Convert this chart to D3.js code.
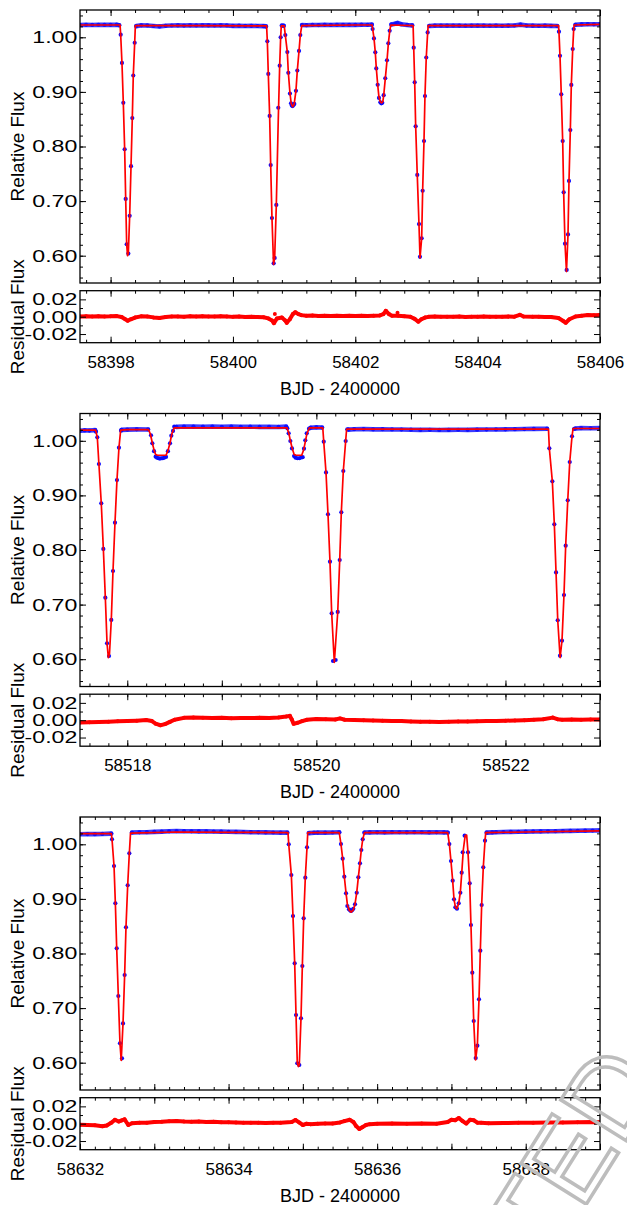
<!DOCTYPE html>
<html><head><meta charset="utf-8">
<script src="https://cdn.jsdelivr.net/npm/d3@7"></script>
<style>
html,body{margin:0;padding:0;background:#fff;}
svg{display:block;}
text{font-family:"Liberation Sans",Arial,Helvetica,sans-serif;}
</style></head><body><div id="chart"></div>
<script>
// ---------- DATA ----------
const fluxDomain = [0.55, 1.05];
const resDomain = [-0.03, 0.03];
const fluxTicks = [0.60, 0.70, 0.80, 0.90, 1.00];
const resTicks = [-0.02, 0.00, 0.02];
const xDomain1 = [58397.5, 58406];
const xDomain2 = [58517.5, 58523];
const xDomain3 = [58632, 58639];
const xTicks1 = [58398, 58400, 58402, 58404, 58406];
const xTicks2 = [58518, 58519, 58520, 58521, 58522, 58523];
const xTicks3 = [58632, 58633, 58634, 58635, 58636, 58637, 58638, 58639];
const xLabel = "BJD - 2400000";
const yLabel = "Relative Flux";
const rLabel = "Residual Flux";

// Panel 1 observations: out-of-eclipse samples and in-eclipse points [BJD, flux]
const base1 = [[58397.50,1.0225],[58397.60,1.0228],[58397.70,1.0226],[58397.80,1.0230],[58397.90,1.0227],[58398.00,1.0228],[58398.10,1.0231],[58398.14,1.0222],
[58398.42,1.0205],[58398.50,1.0219],[58398.60,1.0217],[58398.70,1.0207],[58398.80,1.0199],[58398.90,1.0211],[58399.00,1.0216],[58399.10,1.0218],[58399.20,1.0215],[58399.30,1.0219],[58399.40,1.0217],[58399.50,1.0221],[58399.60,1.0218],[58399.70,1.0216],[58399.80,1.0220],[58399.90,1.0217],[58400.00,1.0210],[58400.10,1.0212],[58400.20,1.0208],[58400.30,1.0210],[58400.40,1.0207],[58400.50,1.0204],[58400.54,1.0200],
[58400.80,1.0215],[58400.83,1.0212],
[58401.13,1.0225],[58401.20,1.0222],[58401.30,1.0226],[58401.40,1.0224],[58401.50,1.0228],[58401.60,1.0226],[58401.70,1.0229],[58401.80,1.0227],[58401.90,1.0230],[58402.00,1.0228],[58402.10,1.0231],[58402.20,1.0229],[58402.27,1.0232],
[58402.59,1.0235],[58402.65,1.0250],[58402.69,1.0262],[58402.75,1.0240],[58402.85,1.0226],[58402.93,1.0218],
[58403.21,1.0208],[58403.30,1.0214],[58403.40,1.0216],[58403.50,1.0213],[58403.60,1.0216],[58403.70,1.0214],[58403.80,1.0212],[58403.90,1.0215],[58404.00,1.0213],[58404.10,1.0215],[58404.20,1.0212],[58404.30,1.0214],[58404.40,1.0211],[58404.50,1.0214],[58404.60,1.0216],[58404.70,1.0232],[58404.80,1.0215],[58404.90,1.0213],[58405.00,1.0211],[58405.10,1.0213],[58405.20,1.0210],[58405.30,1.0206],
[58405.60,1.0230],[58405.70,1.0236],[58405.80,1.0240],[58405.90,1.0238],[58406.00,1.0240]];
const ecl1 = [[58398.165,1.0048],[58398.186,0.953],[58398.208,0.880],[58398.230,0.795],[58398.247,0.704],[58398.263,0.621],[58398.290,0.604],[58398.312,0.673],[58398.334,0.764],[58398.355,0.852],[58398.371,0.930],[58398.394,0.990],
[58400.562,0.9927],[58400.578,0.933],[58400.600,0.856],[58400.617,0.766],[58400.638,0.669],[58400.666,0.586],[58400.682,0.596],[58400.709,0.693],[58400.741,0.871],[58400.764,0.948],[58400.780,1.000],
[58400.856,1.004],[58400.889,0.973],[58400.905,0.935],[58400.932,0.897],[58400.949,0.879],[58400.962,0.875],[58400.976,0.874],[58400.990,0.876],[58401.003,0.878],[58401.030,0.902],[58401.052,0.939],[58401.080,0.975],[58401.101,1.004],
[58402.283,1.015],[58402.305,0.998],[58402.327,0.9725],[58402.343,0.943],[58402.366,0.913],[58402.387,0.889],[58402.409,0.881],[58402.425,0.879],[58402.441,0.880],[58402.464,0.894],[58402.490,0.925],[58402.518,0.958],[58402.540,0.989],[58402.562,1.012],
[58402.955,0.981],[58402.971,0.9175],[58402.987,0.837],[58403.013,0.748],[58403.041,0.658],[58403.057,0.598],[58403.085,0.632],[58403.101,0.719],[58403.123,0.810],[58403.139,0.8925],[58403.160,0.963],[58403.183,1.009],
[58405.329,1.0103],[58405.346,0.966],[58405.367,0.8956],[58405.390,0.810],[58405.406,0.716],[58405.428,0.622],[58405.455,0.574],[58405.477,0.639],[58405.493,0.737],[58405.515,0.830],[58405.531,0.9127],[58405.554,0.9786],[58405.570,1.015]];
const model1 = [[58397.5,1.0225],[58398.155,1.0225],[58398.165,1.0048],[58398.186,0.953],[58398.208,0.880],[58398.230,0.795],[58398.247,0.704],[58398.263,0.621],[58398.277,0.600],[58398.290,0.604],[58398.312,0.673],[58398.334,0.764],[58398.355,0.852],[58398.371,0.930],[58398.394,0.990],[58398.405,1.0215],
[58399.5,1.0215],[58400.550,1.021],[58400.562,0.9927],[58400.578,0.933],[58400.600,0.856],[58400.617,0.766],[58400.638,0.669],[58400.664,0.584],[58400.682,0.596],[58400.709,0.693],[58400.741,0.850],[58400.764,0.948],[58400.780,1.000],[58400.790,1.021],[58400.838,1.021],
[58400.856,1.004],[58400.889,0.973],[58400.905,0.936],[58400.932,0.898],[58400.952,0.879],[58400.975,0.873],[58401.0,0.877],[58401.03,0.902],[58401.052,0.939],[58401.08,0.975],[58401.101,1.004],[58401.125,1.0215],
[58402.0,1.0225],[58402.275,1.0225],[58402.305,0.999],[58402.327,0.9725],[58402.343,0.944],[58402.366,0.913],[58402.387,0.890],[58402.409,0.882],[58402.43,0.880],[58402.45,0.882],[58402.464,0.893],[58402.49,0.924],[58402.518,0.957],[58402.54,0.988],[58402.562,1.011],[58402.58,1.0225],
[58402.945,1.0215],[58402.955,0.981],[58402.971,0.9175],[58402.987,0.837],[58403.013,0.748],[58403.041,0.658],[58403.058,0.596],[58403.085,0.632],[58403.101,0.719],[58403.123,0.810],[58403.139,0.8925],[58403.160,0.963],[58403.183,1.009],[58403.192,1.0215],
[58404.5,1.0215],[58405.322,1.0215],[58405.329,1.0103],[58405.346,0.966],[58405.367,0.8956],[58405.390,0.810],[58405.406,0.716],[58405.428,0.622],[58405.452,0.571],[58405.477,0.639],[58405.493,0.737],[58405.515,0.830],[58405.531,0.9127],[58405.554,0.9786],[58405.570,1.015],[58405.578,1.0225],[58406.0,1.0235]];
const res1 = [[58397.50,0.0003],[58397.60,0.0006],[58397.70,0.0002],[58397.80,0.0006],[58397.90,0.0003],[58398.00,0.0004],[58398.10,0.0007],[58398.18,-0.0004],[58398.24,-0.0030],[58398.28,-0.0046],[58398.33,-0.0030],[58398.40,-0.0010],[58398.50,0.0004],[58398.60,0.0002],[58398.70,-0.0008],[58398.80,-0.0016],[58398.90,-0.0004],[58399.00,0.0001],[58399.10,0.0003],[58399.20,0.0000],[58399.30,0.0005],[58399.40,0.0002],[58399.50,0.0006],[58399.60,0.0003],[58399.70,0.0001],[58399.80,0.0005],[58399.90,0.0002],[58400.00,-0.0002],[58400.10,0.0001],[58400.20,-0.0003],[58400.30,-0.0001],[58400.40,-0.0004],[58400.50,-0.0006],[58400.58,-0.0020],[58400.64,-0.0045],[58400.67,-0.0075],[58400.72,-0.0020],[58400.80,-0.0010],[58400.85,-0.0040],[58400.88,-0.0070],[58400.93,-0.0030],[58400.98,0.0030],[58401.02,0.0052],[58401.07,0.0030],[58401.12,0.0018],[58401.20,0.0010],[58401.30,0.0013],[58401.40,0.0009],[58401.50,0.0012],[58401.60,0.0008],[58401.70,0.0012],[58401.80,0.0009],[58401.90,0.0011],[58402.00,0.0008],[58402.10,0.0010],[58402.20,0.0009],[58402.30,0.0012],[58402.40,0.0015],[58402.46,0.0030],[58402.50,0.0068],[58402.55,0.0030],[58402.60,0.0012],[58402.70,0.0010],[58402.80,0.0005],[58402.90,0.0000],[58402.97,-0.0025],[58403.03,-0.0058],[58403.08,-0.0030],[58403.14,-0.0010],[58403.20,-0.0002],[58403.30,0.0001],[58403.40,-0.0001],[58403.50,0.0000],[58403.60,-0.0002],[58403.70,0.0001],[58403.80,-0.0003],[58403.90,0.0000],[58404.00,-0.0002],[58404.10,0.0001],[58404.20,-0.0002],[58404.30,0.0000],[58404.40,-0.0002],[58404.50,0.0001],[58404.60,0.0000],[58404.69,0.0022],[58404.75,0.0002],[58404.90,-0.0002],[58405.00,-0.0001],[58405.10,-0.0003],[58405.20,-0.0004],[58405.32,-0.0015],[58405.40,-0.0050],[58405.44,-0.0070],[58405.50,-0.0030],[58405.60,0.0002],[58405.70,0.0012],[58405.80,0.0020],[58405.90,0.0017],[58406.00,0.0020]];
const out1 = [[58400.685,0.0032],[58402.69,0.0046]];

// Panel 2
const base2 = [[58517.50,1.0185],[58517.55,1.0190],[58517.60,1.0188],[58517.66,1.0195],
[58517.94,1.0200],[58518.00,1.0205],[58518.10,1.0210],[58518.22,1.0208],
[58518.52,1.0255],[58518.60,1.0262],[58518.70,1.0260],[58518.80,1.0258],[58518.90,1.0260],[58519.00,1.0257],[58519.10,1.0259],[58519.20,1.0256],[58519.30,1.0258],[58519.40,1.0255],[58519.50,1.0257],[58519.60,1.0254],[58519.68,1.0260],
[58519.94,1.0240],[58520.00,1.0245],[58520.06,1.0243],
[58520.34,1.0205],[58520.40,1.0212],[58520.50,1.0215],[58520.60,1.0210],[58520.70,1.0212],[58520.80,1.0208],[58520.90,1.0206],[58521.00,1.0203],[58521.10,1.0200],[58521.20,1.0201],[58521.30,1.0199],[58521.40,1.0200],[58521.50,1.0202],[58521.60,1.0201],[58521.70,1.0204],[58521.80,1.0206],[58521.90,1.0208],[58522.00,1.0210],[58522.10,1.0212],[58522.20,1.0215],[58522.30,1.0218],[58522.44,1.0222],
[58522.74,1.0225],[58522.80,1.0232],[58522.90,1.0230],[58523.00,1.0232]];
const ecl2 = [[58517.669,1.0167],[58517.683,1.0064],[58517.700,0.9575],[58517.725,0.8855],[58517.747,0.802],[58517.768,0.7126],[58517.786,0.629],[58517.807,0.6059],[58517.831,0.672],[58517.849,0.7615],[58517.870,0.850],[58517.891,0.928],[58517.912,0.9874],[58517.934,1.0185],
[58518.251,1.010],[58518.265,0.9954],[58518.283,0.981],[58518.300,0.971],[58518.315,0.969],[58518.330,0.968],[58518.345,0.9675],[58518.360,0.968],[58518.375,0.968],[58518.390,0.969],[58518.410,0.9705],[58518.430,0.981],[58518.452,0.9954],[58518.466,1.0093],[58518.484,1.018],[58518.497,1.0258],
[58519.693,1.0229],[58519.707,1.0137],[58519.725,0.9996],[58519.742,0.986],[58519.764,0.972],[58519.780,0.969],[58519.800,0.968],[58519.820,0.968],[58519.840,0.9695],[58519.855,0.970],[58519.869,0.9855],[58519.883,1.0009],[58519.898,1.0137],[58519.922,1.0222],
[58520.078,0.9984],[58520.102,0.942],[58520.123,0.8654],[58520.144,0.7786],[58520.162,0.684],[58520.176,0.5967],[58520.204,0.5985],[58520.226,0.6865],[58520.247,0.7817],[58520.264,0.869],[58520.285,0.9447],[58520.310,0.9996],[58520.327,1.021],
[58522.464,0.9863],[58522.496,0.9258],[58522.517,0.847],[58522.535,0.759],[58522.553,0.6713],[58522.577,0.6064],[58522.598,0.634],[58522.619,0.7176],[58522.637,0.8079],[58522.659,0.891],[58522.680,0.9612],[58522.704,1.0082],[58522.725,1.0216]];
const model2 = [[58517.5,1.0195],[58517.665,1.0195],[58517.683,1.0064],[58517.700,0.9575],[58517.725,0.8855],[58517.747,0.802],[58517.768,0.7126],[58517.786,0.629],[58517.800,0.603],[58517.812,0.610],[58517.831,0.672],[58517.849,0.7615],[58517.870,0.850],[58517.891,0.928],[58517.912,0.9874],[58517.930,1.0195],
[58518.0,1.0205],[58518.225,1.0205],[58518.245,1.012],[58518.265,0.996],[58518.285,0.982],[58518.300,0.975],[58518.320,0.9735],[58518.410,0.9735],[58518.430,0.982],[58518.452,0.996],[58518.470,1.012],[58518.495,1.0235],
[58519.0,1.0235],[58519.690,1.0235],[58519.710,1.013],[58519.725,1.000],[58519.745,0.986],[58519.765,0.975],[58519.785,0.9735],[58519.845,0.9735],[58519.865,0.983],[58519.885,1.000],[58519.900,1.013],[58519.925,1.0235],
[58520.068,1.0235],[58520.078,0.9984],[58520.102,0.942],[58520.123,0.8654],[58520.144,0.7786],[58520.162,0.684],[58520.190,0.594],[58520.226,0.6865],[58520.247,0.7817],[58520.264,0.869],[58520.285,0.9447],[58520.310,0.9996],[58520.320,1.0215],
[58521.5,1.0215],[58522.455,1.0215],[58522.464,0.9863],[58522.496,0.9258],[58522.517,0.847],[58522.535,0.759],[58522.553,0.6713],[58522.578,0.603],[58522.598,0.634],[58522.619,0.7176],[58522.637,0.8079],[58522.659,0.891],[58522.680,0.9612],[58522.704,1.0082],[58522.715,1.0225],[58523.0,1.0225]];
const res2 = [[58517.50,-0.0027],[58517.60,-0.0024],[58517.70,-0.0021],[58517.80,-0.0017],[58517.90,-0.0013],[58518.00,-0.0010],[58518.10,-0.0005],[58518.20,0.0002],[58518.26,-0.0010],[58518.30,-0.0040],[58518.35,-0.0058],[58518.40,-0.0045],[58518.45,-0.0020],[58518.50,0.0005],[58518.60,0.0027],[58518.70,0.0032],[58518.80,0.0028],[58518.90,0.0025],[58519.00,0.0028],[58519.10,0.0023],[58519.20,0.0026],[58519.30,0.0024],[58519.40,0.0028],[58519.50,0.0025],[58519.60,0.0030],[58519.68,0.0042],[58519.72,0.0050],[58519.74,0.0008],[58519.76,-0.0042],[58519.80,-0.0030],[58519.85,-0.0010],[58519.90,0.0005],[58520.00,0.0015],[58520.10,0.0012],[58520.20,0.0008],[58520.25,0.0021],[58520.30,0.0005],[58520.40,0.0002],[58520.50,0.0000],[58520.60,-0.0003],[58520.70,-0.0006],[58520.80,-0.0008],[58520.90,-0.0010],[58521.00,-0.0014],[58521.10,-0.0017],[58521.20,-0.0019],[58521.30,-0.0020],[58521.40,-0.0018],[58521.50,-0.0016],[58521.60,-0.0015],[58521.70,-0.0012],[58521.80,-0.0010],[58521.90,-0.0008],[58522.00,-0.0006],[58522.10,-0.0003],[58522.20,0.0000],[58522.30,0.0005],[58522.40,0.0012],[58522.50,0.0030],[58522.55,0.0012],[58522.60,0.0005],[58522.70,0.0008],[58522.80,0.0005],[58522.90,0.0007],[58523.00,0.0008]];
const out2 = [];

// Panel 3
const base3 = [[58632.00,1.0185],[58632.10,1.0188],[58632.20,1.0186],[58632.30,1.0190],[58632.42,1.0196],
[58632.70,1.0215],[58632.80,1.0220],[58632.90,1.0222],[58633.00,1.0228],[58633.10,1.0232],[58633.20,1.0238],[58633.30,1.0242],[58633.40,1.0240],[58633.50,1.0238],[58633.60,1.0236],[58633.70,1.0237],[58633.80,1.0234],[58633.90,1.0232],[58634.00,1.0230],[58634.10,1.0228],[58634.20,1.0225],[58634.30,1.0222],[58634.40,1.0220],[58634.50,1.0218],[58634.60,1.0216],[58634.70,1.0214],[58634.79,1.0213],
[58635.08,1.0205],[58635.15,1.0212],[58635.20,1.0215],[58635.30,1.0214],[58635.40,1.0216],[58635.49,1.0220],
[58635.83,1.0215],[58635.90,1.0218],[58636.00,1.0220],[58636.10,1.0219],[58636.20,1.0222],[58636.30,1.0221],[58636.40,1.0220],[58636.50,1.0222],[58636.60,1.0221],[58636.70,1.0219],[58636.80,1.0220],[58636.90,1.0218],[58636.95,1.0215],
[58637.475,1.0213],[58637.55,1.0218],[58637.60,1.0222],[58637.70,1.0225],[58637.80,1.0228],[58637.90,1.0230],[58638.00,1.0232],[58638.10,1.0235],[58638.20,1.0236],[58638.30,1.0238],[58638.40,1.0240],[58638.50,1.0243],[58638.60,1.0245],[58638.70,1.0248],[58638.80,1.0250],[58638.90,1.0252],[58639.00,1.0255]];
const ecl3 = [[58632.431,1.0092],[58632.458,0.9603],[58632.476,0.892],[58632.494,0.8095],[58632.516,0.7222],[58632.538,0.6355],[58632.565,0.608],[58632.579,0.672],[58632.601,0.7606],[58632.619,0.848],[58632.642,0.925],[58632.664,0.9835],
[58634.810,1.000],[58634.845,0.9438],[58634.867,0.8687],[58634.890,0.782],[58634.908,0.6874],[58634.925,0.599],[58634.952,0.5958],[58634.975,0.6813],[58634.993,0.7771],[58635.011,0.8645],[58635.033,0.9389],[58635.056,0.9945],
[58635.513,1.0005],[58635.536,0.9737],[58635.558,0.9407],[58635.581,0.9103],[58635.599,0.887],[58635.621,0.881],[58635.635,0.879],[58635.648,0.8778],[58635.662,0.879],[58635.679,0.882],[58635.702,0.890],[58635.725,0.9113],[58635.747,0.9396],[58635.769,0.9652],[58635.787,0.9896],[58635.806,1.0092],
[58636.972,1.0005],[58636.994,0.9694],[58637.017,0.9333],[58637.035,0.8993],[58637.053,0.8846],[58637.075,0.882],[58637.098,0.892],[58637.120,0.9113],[58637.138,0.948],[58637.152,0.9853],[58637.178,1.0158],[58637.223,0.9853],[58637.246,0.9286],[58637.263,0.8522],[58637.281,0.7648],[58637.300,0.6764],[58637.327,0.6086],[58637.349,0.6311],[58637.371,0.7161],[58637.389,0.8052],[58637.407,0.8888],[58637.429,0.9579],[58637.452,1.0066]];
const model3 = [[58632,1.0195],[58632.422,1.0195],[58632.431,1.0092],[58632.458,0.9603],[58632.476,0.892],[58632.494,0.8095],[58632.516,0.7222],[58632.538,0.6355],[58632.555,0.604],[58632.579,0.672],[58632.601,0.7606],[58632.619,0.848],[58632.642,0.925],[58632.664,0.9835],[58632.680,1.0205],
[58633.3,1.0225],[58634.0,1.0220],[58634.800,1.0213],[58634.810,1.000],[58634.845,0.9438],[58634.867,0.8687],[58634.890,0.782],[58634.908,0.6874],[58634.925,0.599],[58634.940,0.593],[58634.952,0.5958],[58634.975,0.6813],[58634.993,0.7771],[58635.011,0.8645],[58635.033,0.9389],[58635.056,0.9945],[58635.066,1.0213],
[58635.49,1.0215],[58635.513,1.0005],[58635.536,0.974],[58635.558,0.941],[58635.581,0.911],[58635.600,0.889],[58635.625,0.879],[58635.650,0.876],[58635.675,0.879],[58635.700,0.889],[58635.725,0.911],[58635.747,0.940],[58635.769,0.966],[58635.787,0.990],[58635.806,1.009],[58635.830,1.0215],
[58636.95,1.0215],[58636.972,1.0005],[58636.994,0.969],[58637.017,0.933],[58637.035,0.899],[58637.055,0.884],[58637.075,0.882],[58637.098,0.892],[58637.120,0.912],[58637.140,0.950],[58637.160,0.990],[58637.185,1.016],[58637.205,1.017],[58637.223,0.9853],[58637.246,0.9286],[58637.263,0.8522],[58637.281,0.7648],[58637.300,0.6764],[58637.325,0.605],[58637.349,0.6311],[58637.371,0.7161],[58637.389,0.8052],[58637.407,0.8888],[58637.429,0.9579],[58637.452,1.0066],[58637.462,1.0213],
[58638.0,1.0225],[58639.0,1.0245]];
const res3 = [[58632.00,-0.0012],[58632.10,-0.0014],[58632.20,-0.0018],[58632.30,-0.0030],[58632.36,-0.0020],[58632.42,0.0010],[58632.47,0.0045],[58632.52,0.0025],[58632.56,0.0038],[58632.60,0.0050],[58632.65,-0.0015],[58632.70,0.0005],[58632.80,0.0010],[58632.90,0.0012],[58633.00,0.0020],[58633.10,0.0022],[58633.20,0.0028],[58633.30,0.0031],[58633.40,0.0025],[58633.50,0.0022],[58633.60,0.0025],[58633.70,0.0020],[58633.80,0.0022],[58633.90,0.0018],[58634.00,0.0016],[58634.10,0.0014],[58634.20,0.0012],[58634.30,0.0010],[58634.40,0.0011],[58634.50,0.0009],[58634.60,0.0010],[58634.70,0.0012],[58634.85,0.0020],[58634.90,0.0042],[58634.95,0.0015],[58635.00,-0.0015],[58635.05,0.0000],[58635.10,-0.0005],[58635.20,0.0000],[58635.30,0.0002],[58635.40,0.0003],[58635.50,0.0015],[58635.56,0.0030],[58635.63,0.0045],[58635.68,0.0020],[58635.72,-0.0030],[58635.76,-0.0060],[58635.80,-0.0040],[58635.85,-0.0015],[58635.90,-0.0005],[58636.00,0.0000],[58636.20,0.0002],[58636.40,0.0000],[58636.60,0.0003],[58636.80,0.0000],[58636.95,0.0020],[58637.00,0.0045],[58637.05,0.0040],[58637.10,0.0065],[58637.15,0.0030],[58637.20,0.0002],[58637.25,0.0045],[58637.30,0.0040],[58637.35,0.0012],[58637.40,0.0010],[58637.50,0.0005],[58637.70,0.0008],[58637.90,0.0010],[58638.10,0.0012],[58638.30,0.0014],[58638.50,0.0015],[58638.70,0.0018],[58638.90,0.0020],[58639.00,0.0018]];
const out3 = [];

const panels = [
  {xDomain: xDomain1, xTicks: xTicks1, minorStep: 0.4, labelEvery: 2, base: base1, ecl: ecl1, model: model1, res: res1, out: out1, top: 10, resTop: 290.7},
  {xDomain: xDomain2, xTicks: xTicks2, minorStep: 0.2, labelEvery: 2, base: base2, ecl: ecl2, model: model2, res: res2, out: out2, top: 413.5, resTop: 694.2},
  {xDomain: xDomain3, xTicks: xTicks3, minorStep: 0.2, labelEvery: 2, base: base3, ecl: ecl3, model: model3, res: res3, out: out3, top: 817, resTop: 1097.7}
];

// ---------- DRAW ----------
const W = 627, H = 1205, L = 80, R = 600, MAIN_H = 273, RES_H = 52;
const svg = d3.select("#chart").append("svg").attr("width", W).attr("height", H);
svg.append("rect").attr("width", W).attr("height", H).attr("fill", "#fff");
const defs = svg.append("defs");
const BLUE = "#0a0aff", RED = "#ff0000";

function axes(g, xs, ys, top, h, xMaj, xMin, yMaj, yMin, xFmt, yFmt) {
  const styleAx = sel => { sel.select(".domain").remove(); sel.selectAll("line").attr("stroke", "#000").attr("stroke-width", 1); sel.selectAll("text").attr("font-size", 17).attr("fill", "#000"); };
  g.append("g").attr("transform", `translate(0,${top + h})`).call(d3.axisBottom(xs).tickValues(xMaj).tickSize(-6).tickPadding(13).tickFormat(xFmt)).call(styleAx);
  g.append("g").attr("transform", `translate(0,${top + h})`).call(d3.axisBottom(xs).tickValues(xMin).tickSize(-3).tickFormat("")).call(styleAx);
  g.append("g").attr("transform", `translate(0,${top})`).call(d3.axisTop(xs).tickValues(xMaj).tickSize(-6).tickFormat("")).call(styleAx);
  g.append("g").attr("transform", `translate(0,${top})`).call(d3.axisTop(xs).tickValues(xMin).tickSize(-3).tickFormat("")).call(styleAx);
  // y tick labels in the reference are horizontally wide: stretch them
  g.append("g").attr("transform", `translate(${L},0)`).call(d3.axisLeft(ys).tickValues(yMaj).tickSize(-6).tickPadding(2).tickFormat(yFmt)).call(styleAx)
    .selectAll("text").attr("transform", "scale(1.36,1)");
  g.append("g").attr("transform", `translate(${L},0)`).call(d3.axisLeft(ys).tickValues(yMin).tickSize(-3).tickFormat("")).call(styleAx);
  g.append("g").attr("transform", `translate(${R},0)`).call(d3.axisRight(ys).tickValues(yMaj).tickSize(-6).tickFormat("")).call(styleAx);
  g.append("g").attr("transform", `translate(${R},0)`).call(d3.axisRight(ys).tickValues(yMin).tickSize(-3).tickFormat("")).call(styleAx);
  g.append("rect").attr("x", L).attr("y", top).attr("width", R - L).attr("height", h).attr("fill", "none").attr("stroke", "#000").attr("stroke-width", 1.3);
}

panels.forEach((p, i) => {
  const x = d3.scaleLinear().domain(p.xDomain).range([L, R]);
  const y = d3.scaleLinear().domain(fluxDomain).range([p.top + MAIN_H, p.top]);
  const yr = d3.scaleLinear().domain(resDomain).range([p.resTop + RES_H, p.resTop]);
  defs.append("clipPath").attr("id", "cm" + i).append("rect").attr("x", L).attr("y", p.top).attr("width", R - L).attr("height", MAIN_H);
  defs.append("clipPath").attr("id", "cr" + i).append("rect").attr("x", L).attr("y", p.resTop).attr("width", R - L).attr("height", RES_H);

  // main plot
  const gm = svg.append("g").attr("clip-path", `url(#cm${i})`);
  const line = d3.line().x(d => x(d[0])).y(d => y(d[1]));
  const segs = []; let cur = [];
  p.base.forEach((d, k) => { if (k > 0 && d[0] - p.base[k - 1][0] > 0.15) { segs.push(cur); cur = []; } cur.push(d); });
  segs.push(cur);
  segs.forEach(s => gm.append("path").attr("d", line(s)).attr("fill", "none").attr("stroke", BLUE).attr("stroke-width", 4.6).attr("stroke-opacity", 0.8).attr("stroke-linecap", "round"));
  gm.selectAll(null).data(p.base).enter().append("circle").attr("cx", d => x(d[0])).attr("cy", d => y(d[1])).attr("r", 2.1).attr("fill", BLUE).attr("fill-opacity", 0.85);
  gm.selectAll(null).data(p.ecl).enter().append("circle").attr("cx", d => x(d[0])).attr("cy", d => y(d[1])).attr("r", 2.1).attr("fill", BLUE);
  gm.append("path").attr("d", line(p.model)).attr("fill", "none").attr("stroke", RED).attr("stroke-width", 1.7).attr("stroke-linejoin", "round");

  const xMinor = d3.range(Math.ceil(p.xDomain[0] / p.minorStep) * p.minorStep, p.xDomain[1] + 1e-6, p.minorStep);
  const yMinor = d3.range(0.56, 1.05, 0.02);
  axes(svg.append("g"), x, y, p.top, MAIN_H, p.xTicks, xMinor, fluxTicks, yMinor, () => "", d => d.toFixed(2));

  // residual plot
  const gr = svg.append("g").attr("clip-path", `url(#cr${i})`);
  const rline = d3.line().x(d => x(d[0])).y(d => yr(d[1]));
  gr.append("path").attr("d", rline(p.res)).attr("fill", "none").attr("stroke", RED).attr("stroke-width", 4).attr("stroke-linejoin", "round").attr("stroke-linecap", "round");
  gr.selectAll(null).data(p.res.concat(p.out)).enter().append("circle").attr("cx", d => x(d[0])).attr("cy", d => yr(d[1])).attr("r", 2).attr("fill", RED);
  axes(svg.append("g"), x, yr, p.resTop, RES_H, p.xTicks, xMinor, resTicks, [-0.01, 0.01], d => (Math.round(d) % p.labelEvery === 0 ? d3.format("d")(d) : ""), d => d.toFixed(2));

  // labels
  svg.append("text").attr("transform", `translate(24,${p.top + MAIN_H / 2}) rotate(-90)`).attr("text-anchor", "middle").attr("font-size", 19).text(yLabel);
  svg.append("text").attr("transform", `translate(24,${p.resTop + RES_H / 2}) rotate(-90)`).attr("text-anchor", "middle").attr("font-size", 19).text(rLabel);
  svg.append("text").attr("x", (L + R) / 2).attr("y", p.resTop + RES_H + 51.8).attr("text-anchor", "middle").attr("font-size", 18).text(xLabel);
});

// watermark in the lower-right corner
svg.append("text").attr("transform", "translate(664,1080) rotate(-58)").attr("text-anchor", "end")
  .attr("font-family", "Liberation Serif, serif").attr("font-size", 112).attr("fill", "none")
  .attr("stroke", "#bdbdbd").attr("stroke-width", 3.5).text("ACCEPTED");
</script></body></html>
